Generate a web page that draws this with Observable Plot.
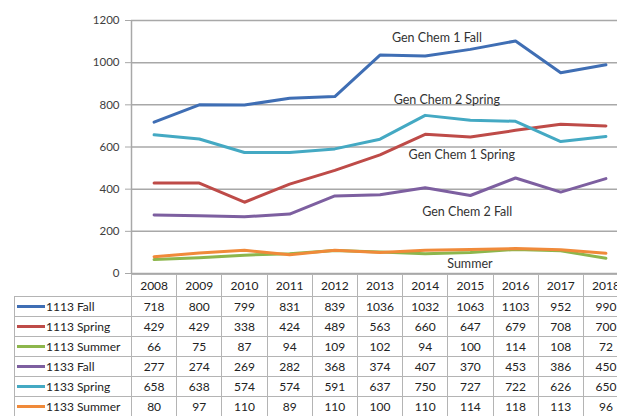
<!DOCTYPE html>
<html><head><meta charset="utf-8">
<script src="https://cdn.jsdelivr.net/npm/d3@7"></script>
<script src="https://cdn.jsdelivr.net/npm/@observablehq/plot@0.6"></script>
<style>
html,body{margin:0;padding:0;overflow:hidden;background:#fff;width:617px;height:416px;}
#wrap{position:relative;width:617px;height:416px;overflow:hidden;font-family:Lato,sans-serif;}
#chart{position:absolute;left:0;top:0;width:628px;}
#chart svg{max-width:none !important;}
#tbl{position:absolute;left:14px;top:274px;border-collapse:collapse;table-layout:fixed;font-family:Lato,sans-serif;font-size:12px;color:#222;}
#tbl td{border:1.5px solid #b4b4b4;padding:0;text-align:center;white-space:nowrap;overflow:hidden;height:19px;line-height:19px;}
#tbl tr.hdr td{height:21px;line-height:21px;}
#tbl td.blank{border:none;border-right:1.5px solid #b4b4b4;}
#tbl td.lab{text-align:left;padding-left:2px;}
.key{display:inline-block;width:28px;height:3px;vertical-align:middle;margin-right:1px;position:relative;top:-1px;}
</style>
</head><body>
<div id="wrap"><div id="chart"></div><table id="tbl"></table></div>
<script>
const years = [2008, 2009, 2010, 2011, 2012, 2013, 2014, 2015, 2016, 2017, 2018];
const seriesNames = ["1113 Fall", "1113 Spring", "1113 Summer", "1133 Fall", "1133 Spring", "1133 Summer"];
const fall1113   = [718, 800, 799, 831, 839, 1036, 1032, 1063, 1103, 952, 990];
const spring1113 = [429, 429, 338, 424, 489, 563, 660, 647, 679, 708, 700];
const summer1113 = [66, 75, 87, 94, 109, 102, 94, 100, 114, 108, 72];
const fall1133   = [277, 274, 269, 282, 368, 374, 407, 370, 453, 386, 450];
const spring1133 = [658, 638, 574, 574, 591, 637, 750, 727, 722, 626, 650];
const summer1133 = [80, 97, 110, 89, 110, 100, 110, 114, 118, 113, 96];
const seriesValues = [fall1113, spring1113, summer1113, fall1133, spring1133, summer1133];
const seriesColors = ["#3F6EB4", "#BE4B48", "#8DB64C", "#7D5FA0", "#44A9C3", "#F08A3A"];
const yTicks = [0, 200, 400, 600, 800, 1000, 1200];
const annotationLabels = ["Gen Chem 1 Fall", "Gen Chem 2 Spring", "Gen Chem 1 Spring", "Gen Chem 2 Fall", "Summer"];
const annotationYears  = [2014.26, 2014.48, 2014.81, 2014.93, 2014.99];
const annotationValues = [1119, 825, 560, 294, 47];

const rows = seriesNames.flatMap((s, i) => years.map((y, j) => ({series: s, year: y, value: seriesValues[i][j]})));

const chart = Plot.plot({
  width: 628, height: 276,
  marginLeft: 131, marginRight: 0, marginTop: 20, marginBottom: 3,
  style: {fontFamily: "Lato, sans-serif", fontSize: "11.5px", color: "#404040", background: "transparent", overflow: "visible", maxWidth: "none"},
  x: {domain: [years[0] - 0.5, years[years.length - 1] + 0.5], axis: null},
  y: {domain: [0, 1200], axis: null},
  color: {domain: seriesNames, range: seriesColors},
  marks: [
    Plot.gridY(yTicks, {stroke: "#a8a8a8", strokeOpacity: 1, strokeWidth: 1.5}),
    Plot.axisY(yTicks, {tickSize: 6, tickPadding: 6, label: null, stroke: "#a8a8a8", fill: "#404040", tickFormat: d => String(d)}),
    Plot.ruleX([years[0] - 0.5], {y1: 0, y2: 1200, stroke: "#a8a8a8", strokeWidth: 1.5}),
    Plot.line(rows, {x: "year", y: "value", z: "series", stroke: "series", strokeWidth: 3, strokeLinejoin: "round", strokeLinecap: "round"}),
    Plot.text(annotationLabels, {x: (d, i) => annotationYears[i], y: (d, i) => annotationValues[i], text: d => d, fontSize: 12.5, fill: "#333"})
  ]
});
document.getElementById("chart").appendChild(chart);

// data table below the chart
const tbl = document.getElementById("tbl");
const colg = document.createElement("colgroup");
const c0 = document.createElement("col"); c0.style.width = "117px"; colg.appendChild(c0);
years.forEach(() => { const c = document.createElement("col"); c.style.width = "45.2px"; colg.appendChild(c); });
tbl.appendChild(colg);
const hdr = document.createElement("tr"); hdr.className = "hdr";
const b = document.createElement("td"); b.className = "blank"; hdr.appendChild(b);
years.forEach(y => { const td = document.createElement("td"); td.textContent = y; hdr.appendChild(td); });
tbl.appendChild(hdr);
seriesNames.forEach((s, i) => {
  const tr = document.createElement("tr");
  const lab = document.createElement("td"); lab.className = "lab";
  const key = document.createElement("span"); key.className = "key"; key.style.background = seriesColors[i];
  lab.appendChild(key); lab.appendChild(document.createTextNode(s));
  tr.appendChild(lab);
  seriesValues[i].forEach(v => { const td = document.createElement("td"); td.textContent = v; tr.appendChild(td); });
  tbl.appendChild(tr);
});
tbl.style.width = (117 + 45.2 * years.length) + "px";
</script>
</body></html>
